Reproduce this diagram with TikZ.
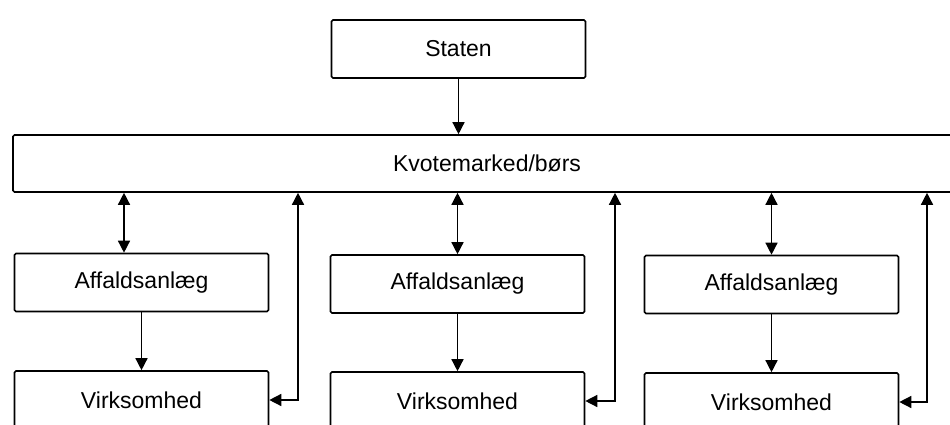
\documentclass[tikz,border=0pt]{standalone}
\usepackage{fontspec}
\setmainfont{Liberation Sans}
\usetikzlibrary{arrows.meta}
\begin{document}
\begin{tikzpicture}[x=1pt,y=-1pt,
  box/.style={draw, line width=1.6pt, rounded corners=1.5pt, fill=white,
    minimum width=254pt, minimum height=58pt, inner sep=0pt,
    font=\fontsize{23}{27}\selectfont},
  conn/.style={line width=1.4pt, -{Triangle[length=12pt,width=12pt]}},
  dconn/.style={line width=1.4pt, {Triangle[length=12pt,width=12pt]}-{Triangle[length=12pt,width=12pt]}}
]
\useasboundingbox (0,0) rectangle (950,425);
\clip (0,0) rectangle (950,425);
\node[box] (s) at (458.5,49) {Staten};
\node[box, minimum width=948pt, minimum height=57pt] (k) at (487,163.5) {Kvotemarked/børs};
\node[box] (a1) at (141.5,282.5) {Affaldsanlæg};
\node[box] (v1) at (141.5,400) {Virksomhed};
\node[box] (a2) at (457.5,284) {Affaldsanlæg};
\node[box] (v2) at (457.5,401) {Virksomhed};
\node[box] (a3) at (771.5,284.5) {Affaldsanlæg};
\node[box] (v3) at (771.5,402) {Virksomhed};
\coordinate (d1) at ([xshift=-17.5pt]a1.north);
\coordinate (r1) at (298,400);
\coordinate (r2) at (615,401);
\coordinate (r3) at (927,402);
\draw[conn] (s.south) -- (s.south |- k.north);
\draw[dconn] (d1 |- k.south) -- (d1);
\draw[dconn] (a2.north |- k.south) -- (a2.north);
\draw[dconn] (a3.north |- k.south) -- (a3.north);
\draw[conn] (a1.south) -- (v1.north);
\draw[conn] (a2.south) -- (v2.north);
\draw[conn] (a3.south) -- (v3.north);
\draw[dconn] (v1.east) -| (r1 |- k.south);
\draw[dconn] (v2.east) -| (r2 |- k.south);
\draw[dconn] (v3.east) -| (r3 |- k.south);
\end{tikzpicture}
\end{document}
